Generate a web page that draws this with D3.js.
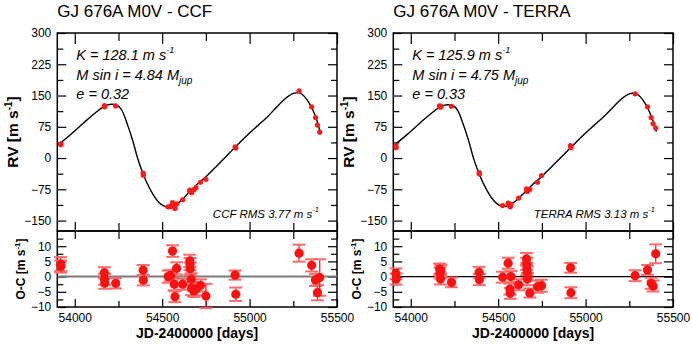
<!DOCTYPE html>
<html>
<head>
<meta charset="utf-8">
<script src="https://cdn.jsdelivr.net/npm/d3@7"></script>
<style>
  body { margin: 0; background: #fff; }
  svg { display: block; font-family: "Liberation Sans", Arial, sans-serif; }
</style>
</head>
<body>
<svg id="chart" width="692" height="344"></svg>
<script>
// ---- CCF data ----
let ccfTimes = [53919, 53920, 54169, 54170, 54171, 54234, 54391, 54392, 54534, 54548, 54559, 54569, 54573, 54582, 54617,
  54658, 54659, 54660, 54666, 54668, 54681, 54693, 54719, 54750, 54917, 54921, 55283, 55355, 55377, 55388, 55401]
let ccfRV = [34, 32, 126, 124, 123, 125, -36, -41, -117, -116, -107, -117, -121, -110, -100,
  -77, -78, -80, -81, -83, -76, -71, -58, -51, 27, 24, 161, 123, 97, 79, 62]
let ccfResid = [4.1, 3.3, 1.3, -0.9, -2.2, -2.2, 2.1, -1.2, 0.0, 0.4, 8.4, -2.5, -6.6, 2.7, -2.5,
  5.2, 4.1, 2.6, -0.9, -3.9, -4.7, -4.2, -2.9, -6.4, 0.5, -5.8, 7.7, 3.7, -1.1, -5.3, -0.3]
let ccfErr = [2.3, 2.0, 1.8, 1.8, 1.8, 1.7, 1.7, 1.7, 2.0, 1.8, 1.9, 2.0, 1.8, 2.0, 1.8,
  2.0, 2.0, 2.0, 2.0, 2.2, 2.0, 2.0, 2.0, 4.0, 1.5, 2.2, 2.8, 2.0, 2.0, 2.5, 6.0]
// fitted orbit
let ccfModelT = [53900, 53975, 54050, 54125, 54175, 54210, 54240, 54270, 54300, 54330, 54360, 54390, 54420, 54450, 54480,
  54510, 54535, 54560, 54600, 54650, 54700, 54750, 54800, 54850, 54900, 54950, 55000, 55050, 55100, 55150,
  55200, 55250, 55280, 55300, 55330, 55360, 55385, 55405]
let ccfModelRV = [30, 56, 84, 111, 125.5, 129, 127, 114, 82, 44, -1, -37, -66, -89, -106,
  -115, -118, -116, -105, -84, -63, -45, -24, -3, 19, 40, 60, 79, 98, 120,
  141, 155, 157, 153, 139, 117, 90, 60]

// ---- TERRA data ----
let terraTimes = [53915, 53916, 54165, 54167, 54170, 54172, 54233, 54391, 54392, 54525, 54557, 54567, 54569, 54572, 54617,
  54662, 54663, 54664, 54666, 54667, 54681, 54725, 54748, 54914, 54916, 55283, 55354, 55375, 55386, 55401]
let terraRV = [30, 25, 125, 124, 122, 124, 124, -35, -38, -114, -108, -116, -117, -111, -96,
  -74, -76, -77, -78, -80, -75, -58, -42, 30, 25, 154, 123, 97, 82, 72]
let terraResid = [0.9, -0.8, 2.5, 1.2, -0.8, 2.0, -1.9, 1.4, -1.0, -0.2, 4.4, -4.1, -5.5, 0.0, -2.7,
  5.8, 4.2, 2.5, 1.4, -0.8, -5.4, -3.3, -3.0, 2.9, -5.3, 0.3, 2.2, -2.2, -3.1, 7.5]
let terraErr = [1.8, 1.8, 1.8, 1.8, 1.8, 1.8, 1.6, 1.8, 1.8, 1.8, 1.8, 1.8, 1.8, 1.8, 1.8,
  2.0, 2.0, 2.0, 2.0, 2.0, 1.5, 2.0, 2.0, 1.6, 1.8, 1.8, 1.6, 1.8, 1.8, 3.1]
let terraModelT = ccfModelT
let terraModelRV = [29, 55, 83, 110, 124.5, 128, 126, 113, 81, 43, -2, -37, -65, -88, -105,
  -114, -116, -114, -103, -83, -62, -44, -23, -2, 19, 40, 60, 79, 98, 119,
  140, 154, 156, 152, 138, 116, 90, 63]

// ---- axis ticks ----
let rvMajor = [-150, -75, 0, 75, 150, 225, 300]
let rvMinor = [-112.5, -37.5, 37.5, 112.5, 187.5, 262.5]
let ocMajor = [-10, -5, 0, 5, 10]
let ocMinor = [-7.5, -2.5, 2.5, 7.5, 12.5]
let jdMajor = [54000, 54500, 55000, 55500]
let jdMinor = [54250, 54750, 55250]

let svg = d3.select("#chart")

let yTop = 33, yMid = 231, yBot = 307

function drawPanel(left, right, p) {
  let x = d3.scaleLinear().domain([53900, 55500]).range([left, right])
  let y = d3.scaleLinear().domain([-175, 300]).range([yMid, yTop])
  let yr = d3.scaleLinear().domain([-10, 15]).range([yBot, yMid])

  let g = svg.append("g")

  // title
  g.append("text")
    .attr("x", left).attr("y", 17)
    .attr("font-size", 17)
    .text(p.title)

  // helper for tick axes
  function ticks(axis, transform, noLabel) {
    let a = g.append("g").attr("transform", transform).call(axis)
    a.select(".domain").remove()
    a.selectAll(".tick line").attr("stroke", "#000").attr("stroke-width", 1.2)
    if (noLabel) a.selectAll(".tick text").remove()
    a.selectAll(".tick text").attr("font-size", 12).attr("fill", "#000")
    a.attr("font-family", null)
    return a
  }

  // RV panel y ticks
  ticks(d3.axisLeft(y).tickValues(rvMajor).tickSizeInner(-9).tickSizeOuter(0).tickPadding(6), `translate(${left},0)`)
  ticks(d3.axisLeft(y).tickValues(rvMinor).tickSizeInner(-6).tickSizeOuter(0).tickFormat(""), `translate(${left},0)`, true)
  ticks(d3.axisRight(y).tickValues(rvMajor).tickSizeInner(-9).tickSizeOuter(0).tickFormat(""), `translate(${right},0)`, true)
  ticks(d3.axisRight(y).tickValues(rvMinor).tickSizeInner(-6).tickSizeOuter(0).tickFormat(""), `translate(${right},0)`, true)
  // RV panel x ticks
  ticks(d3.axisTop(x).tickValues(jdMajor).tickSizeInner(-11).tickSizeOuter(0).tickFormat(""), `translate(0,${yTop})`, true)
  ticks(d3.axisTop(x).tickValues(jdMinor).tickSizeInner(-8).tickSizeOuter(0).tickFormat(""), `translate(0,${yTop})`, true)
  ticks(d3.axisBottom(x).tickValues(jdMajor).tickSizeInner(-9).tickSizeOuter(0).tickFormat(""), `translate(0,${yMid})`, true)
  ticks(d3.axisBottom(x).tickValues(jdMinor).tickSizeInner(-8).tickSizeOuter(0).tickFormat(""), `translate(0,${yMid})`, true)

  // O-C panel ticks
  ticks(d3.axisLeft(yr).tickValues(ocMajor).tickSizeInner(-9).tickSizeOuter(0).tickPadding(6), `translate(${left},0)`)
  ticks(d3.axisLeft(yr).tickValues(ocMinor).tickSizeInner(-6).tickSizeOuter(0).tickFormat(""), `translate(${left},0)`, true)
  ticks(d3.axisRight(yr).tickValues(ocMajor).tickSizeInner(-9).tickSizeOuter(0).tickFormat(""), `translate(${right},0)`, true)
  ticks(d3.axisRight(yr).tickValues(ocMinor).tickSizeInner(-6).tickSizeOuter(0).tickFormat(""), `translate(${right},0)`, true)
  ticks(d3.axisTop(x).tickValues(jdMajor.concat(jdMinor)).tickSizeInner(-8).tickSizeOuter(0).tickFormat(""), `translate(0,${yMid})`, true)
  ticks(d3.axisBottom(x).tickValues(jdMajor).tickSizeInner(-8).tickSizeOuter(0).tickPadding(6).tickFormat(d3.format("d")), `translate(0,${yBot})`)
  ticks(d3.axisBottom(x).tickValues(jdMinor).tickSizeInner(-6).tickSizeOuter(0).tickFormat(""), `translate(0,${yBot})`, true)

  // frames
  g.append("rect").attr("x", left).attr("y", yTop).attr("width", right - left).attr("height", yMid - yTop)
    .attr("fill", "none").attr("stroke", "#000").attr("stroke-width", 1.5)
  g.append("rect").attr("x", left).attr("y", yMid).attr("width", right - left).attr("height", yBot - yMid)
    .attr("fill", "none").attr("stroke", "#000").attr("stroke-width", 1.5)

  // model curve
  let line = d3.line().x(d => x(d[0])).y(d => y(d[1])).curve(d3.curveMonotoneX)
  g.append("path")
    .attr("d", line(d3.zip(p.modelT, p.modelRV)))
    .attr("fill", "none").attr("stroke", "#000").attr("stroke-width", 1.4)

  // RV points
  g.append("g").selectAll("circle")
    .data(d3.zip(p.times, p.rv))
    .join("circle")
    .attr("cx", d => x(d[0])).attr("cy", d => y(d[1]))
    .attr("r", 2.6).attr("fill", "#ff1a1a")

  // zero line in O-C
  g.append("line")
    .attr("x1", left).attr("x2", right)
    .attr("y1", yr(0)).attr("y2", yr(0))
    .attr("stroke", p.zeroColor).attr("stroke-width", p.zeroWidth)

  // residuals with error bars
  let res = d3.zip(p.times, p.resid, p.err)
  let eb = g.append("g").selectAll("g").data(res).join("g")
  eb.append("line")
    .attr("x1", d => x(d[0])).attr("x2", d => x(d[0]))
    .attr("y1", d => yr(d[1] - d[2])).attr("y2", d => yr(d[1] + d[2]))
    .attr("stroke", "#ff2a2a").attr("stroke-width", 1.4)
  eb.selectAll(".cap").data(d => [[d[0], d[1] - d[2]], [d[0], d[1] + d[2]]]).join("line")
    .attr("class", "cap")
    .attr("x1", d => x(d[0]) - 6.5).attr("x2", d => x(d[0]) + 6.5)
    .attr("y1", d => yr(d[1])).attr("y2", d => yr(d[1]))
    .attr("stroke", "#ff6a6a").attr("stroke-width", 2)
  g.append("g").selectAll("circle").data(res).join("circle")
    .attr("cx", d => x(d[0])).attr("cy", d => yr(d[1]))
    .attr("r", 4.6).attr("fill", "#ff1010")

  // annotations
  let ann = g.append("g").attr("font-style", "italic").attr("font-size", 14.5)
  let t1 = ann.append("text").attr("x", left + 19).attr("y", 60)
  t1.append("tspan").text(`K = ${p.K} m s`)
  t1.append("tspan").attr("font-size", 9).attr("dy", -7).text("-1")
  let t2 = ann.append("text").attr("x", left + 19).attr("y", 79.5)
  t2.append("tspan").text(`M sin i = ${p.M} M`)
  t2.append("tspan").attr("font-size", 10).attr("dy", 4).text("jup")
  ann.append("text").attr("x", left + 19).attr("y", 98.5).text(`e = ${p.e}`)

  let rms = g.append("text").attr("font-style", "italic").attr("font-size", 11.5)
    .attr("x", right - 18).attr("y", 218).attr("text-anchor", "end")
  rms.append("tspan").text(`${p.label} RMS ${p.rms} m s`)
  rms.append("tspan").attr("font-size", 7.5).attr("dy", -6).text("-1")

  // axis titles
  let yl = g.append("text").attr("font-weight", "bold").attr("font-size", 15.5)
    .attr("text-anchor", "middle")
    .attr("transform", `translate(${left - 39},${(yTop + yMid) / 2}) rotate(-90)`)
  yl.append("tspan").text("RV [m s")
  yl.append("tspan").attr("font-size", 10).attr("dy", -6).text("-1")
  yl.append("tspan").attr("dy", 6).text("]")

  let ol = g.append("text").attr("font-weight", "bold").attr("font-size", 12)
    .attr("text-anchor", "middle")
    .attr("transform", `translate(${left - 32},${(yMid + yBot) / 2}) rotate(-90)`)
  ol.append("tspan").text("O-C [m s")
  ol.append("tspan").attr("font-size", 8).attr("dy", -5).text("-1")
  ol.append("tspan").attr("dy", 5).text("]")

  g.append("text").attr("font-weight", "bold").attr("font-size", 14)
    .attr("x", (left + right) / 2).attr("y", 338).attr("text-anchor", "middle")
    .text("JD-2400000 [days]")
}

drawPanel(57.3, 337, {
  title: "GJ 676A M0V - CCF", label: "CCF", K: "128.1", M: "4.84", e: "0.32", rms: "3.77",
  times: ccfTimes, rv: ccfRV, resid: ccfResid, err: ccfErr,
  modelT: ccfModelT, modelRV: ccfModelRV, zeroColor: "#7a7a7a", zeroWidth: 2
})
drawPanel(393.3, 673, {
  title: "GJ 676A M0V - TERRA", label: "TERRA", K: "125.9", M: "4.75", e: "0.33", rms: "3.13",
  times: terraTimes, rv: terraRV, resid: terraResid, err: terraErr,
  modelT: terraModelT, modelRV: terraModelRV, zeroColor: "#000", zeroWidth: 1.2
})
</script>
</body>
</html>
